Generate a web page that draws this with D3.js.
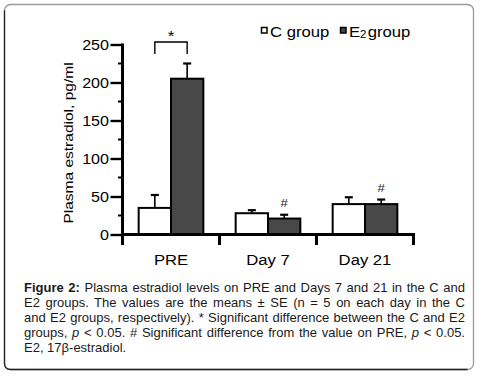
<!DOCTYPE html>
<html>
<head>
<meta charset="utf-8">
<script src="https://cdn.jsdelivr.net/npm/d3@7"></script>
<style>
  body { margin: 0; background: #fff; }
  svg { display: block; font-family: "Liberation Sans", Arial, sans-serif; }
</style>
</head>
<body>
<script>
// chart values
var categories = ["PRE", "Day 7", "Day 21"];
var groups = ["C", "E2"];
var cMeans = [35, 28, 40];
var cSE = [17, 4, 9];
var e2Means = [205, 21, 40];
var e2SE = [20, 5, 6];
var yTicks = [0, 50, 100, 150, 200, 250];
var yMinorTicks = [25, 75, 125, 175, 225];
var hashMarks = ["Day 7", "Day 21"];   // E2 differs from PRE
var starMarks = ["PRE"];               // C vs E2 differ

var captionLines = [
  [{t: "Figure 2:", b: true}, {t: " Plasma estradiol levels on PRE and Days 7 and 21 in the C and"}],
  [{t: "E2 groups. The values are the means \u00b1 SE (n = 5 on each day in the C"}],
  [{t: "and E2 groups, respectively). * Significant difference between the C and E2"}],
  [{t: "groups, "}, {t: "p", i: true}, {t: " < 0.05. # Significant difference from the value on PRE, "}, {t: "p", i: true}, {t: " < 0.05."}],
  [{t: "E2, 17\u03b2-estradiol."}]
];

var W = 485, H = 376;
var sx = 1.15; // chart lettering is a little wide

var svg = d3.select("body").append("svg")
    .attr("width", W)
    .attr("height", H);

// frame
svg.append("rect")
    .attr("x", 4.5).attr("y", 4.5)
    .attr("width", 469).attr("height", 365)
    .attr("rx", 6)
    .attr("fill", "none")
    .attr("stroke", "#9a9a9a")
    .attr("stroke-width", 1.3);
svg.append("path")
    .attr("d", "M4.5,10.5 V363.5 Q4.5,369.5 10.5,369.5 H467.5")
    .attr("fill", "none")
    .attr("stroke", "#222")
    .attr("stroke-width", 1.3);

var rows = [];
categories.forEach(function(c, i) {
  rows.push({cat: c, group: "C", mean: cMeans[i], se: cSE[i]});
  rows.push({cat: c, group: "E2", mean: e2Means[i], se: e2SE[i]});
});

var x0 = d3.scaleBand().domain(categories).range([122.5, 413.5]).padding(0);
var x1 = d3.scaleBand().domain(groups).range([0, x0.bandwidth()]).paddingInner(0).paddingOuter(0.5);
var y = d3.scaleLinear().domain([0, 250]).range([234.5, 44.5]);

var fillOf = {C: "#ffffff", E2: "#484848"};

function stretched(sel, px, py) {
  return sel.attr("transform", "translate(" + px + "," + py + ") scale(" + sx + ",1)");
}

// bars
var chart = svg.append("g");
chart.selectAll("rect.bar")
    .data(rows)
    .enter()
    .append("rect")
    .attr("class", "bar")
    .attr("x", function(d) { return x0(d.cat) + x1(d.group); })
    .attr("y", function(d) { return y(d.mean); })
    .attr("width", x1.bandwidth())
    .attr("height", function(d) { return y(0) - y(d.mean); })
    .attr("fill", function(d) { return fillOf[d.group]; })
    .attr("stroke", "#000")
    .attr("stroke-width", 2);

// error bars (upper only)
var err = chart.selectAll("g.err")
    .data(rows)
    .enter()
    .append("g")
    .attr("class", "err");
err.append("line")
    .attr("x1", function(d) { return x0(d.cat) + x1(d.group) + x1.bandwidth() / 2; })
    .attr("x2", function(d) { return x0(d.cat) + x1(d.group) + x1.bandwidth() / 2; })
    .attr("y1", function(d) { return y(d.mean); })
    .attr("y2", function(d) { return y(d.mean + d.se); })
    .attr("stroke", "#000")
    .attr("stroke-width", 1.6);
err.append("line")
    .attr("x1", function(d) { return x0(d.cat) + x1(d.group) + x1.bandwidth() / 2 - 4; })
    .attr("x2", function(d) { return x0(d.cat) + x1(d.group) + x1.bandwidth() / 2 + 4; })
    .attr("y1", function(d) { return y(d.mean + d.se); })
    .attr("y2", function(d) { return y(d.mean + d.se); })
    .attr("stroke", "#000")
    .attr("stroke-width", 2.2);

// y axis
var yAxis = d3.axisLeft(y).tickValues(yTicks).tickSize(12).tickPadding(3);
var ya = svg.append("g")
    .attr("transform", "translate(122.5,0)")
    .call(yAxis);
ya.select(".domain").remove();
ya.selectAll(".tick line").attr("stroke", "#000").attr("stroke-width", 2.4);
ya.selectAll(".tick text").remove();
ya.selectAll(".tick").append("text")
    .attr("fill", "#000")
    .attr("text-anchor", "end")
    .attr("font-size", 14)
    .attr("dy", "0.36em")
    .text(function(d) { return d; })
    .each(function() { stretched(d3.select(this), -13.5, 0); });

ya.selectAll("line.minor")
    .data(yMinorTicks)
    .enter()
    .append("line")
    .attr("class", "minor")
    .attr("x1", -4.5).attr("x2", 0)
    .attr("y1", function(d) { return y(d); })
    .attr("y2", function(d) { return y(d); })
    .attr("stroke", "#000")
    .attr("stroke-width", 2);

svg.append("line")
    .attr("x1", 122.5).attr("x2", 122.5)
    .attr("y1", y(250) - 1).attr("y2", 245)
    .attr("stroke", "#000")
    .attr("stroke-width", 3);

// x axis
svg.append("line")
    .attr("x1", 121).attr("x2", 415)
    .attr("y1", y(0)).attr("y2", y(0))
    .attr("stroke", "#000")
    .attr("stroke-width", 3);
var seps = categories.map(function(c) { return x0(c); }).concat([x0.range()[1]]);
svg.selectAll("line.sep")
    .data(seps)
    .enter()
    .append("line")
    .attr("class", "sep")
    .attr("x1", function(d) { return d; })
    .attr("x2", function(d) { return d; })
    .attr("y1", y(0)).attr("y2", 245)
    .attr("stroke", "#000")
    .attr("stroke-width", 3);

svg.selectAll("text.cat")
    .data(categories)
    .enter()
    .append("text")
    .attr("class", "cat")
    .attr("text-anchor", "middle")
    .attr("font-size", 14.5)
    .attr("fill", "#000")
    .text(function(d) { return d; })
    .each(function(d) { stretched(d3.select(this), x0(d) + x0.bandwidth() / 2, 265); });

// y label
svg.append("text")
    .attr("text-anchor", "middle")
    .attr("font-size", 13.5)
    .attr("fill", "#000")
    .attr("transform", "translate(72.5,143) rotate(-90) scale(" + sx + ",1)")
    .text("Plasma estradiol, pg/ml");

// significance: bracket + star
starMarks.forEach(function(c) {
  var xa = x0(c) + x1("C") + x1.bandwidth() / 2;
  var xb = x0(c) + x1("E2") + x1.bandwidth() / 2;
  var top = 42;
  svg.append("path")
      .attr("d", "M" + xa + "," + (top + 12) + " V" + top + " H" + xb + " V" + (top + 12))
      .attr("fill", "none")
      .attr("stroke", "#000")
      .attr("stroke-width", 1.4);
  svg.append("text")
      .attr("text-anchor", "middle")
      .attr("font-size", 15)
      .attr("fill", "#000")
      .text("*")
      .each(function() { stretched(d3.select(this), (xa + xb) / 2, top - 1); });
});

hashMarks.forEach(function(c) {
  var i = categories.indexOf(c);
  svg.append("text")
      .attr("text-anchor", "middle")
      .attr("font-size", 11.5)
      .attr("fill", "#222")
      .text("#")
      .each(function() {
        stretched(d3.select(this), x0(c) + x1("E2") + x1.bandwidth() / 2, y(e2Means[i] + e2SE[i]) - 7.5);
      });
});

// legend
var legend = svg.append("g");
var legItems = [{x: 261, label: "C"}, {x: 340, label: "E"}];
groups.forEach(function(g, i) {
  var lx = legItems[i].x;
  legend.append("rect")
      .attr("x", lx + 0.5).attr("y", 27.5)
      .attr("width", 5.5).attr("height", 5.5)
      .attr("fill", fillOf[g])
      .attr("stroke", "#000")
      .attr("stroke-width", 1.5);
  var t = legend.append("text")
      .attr("font-size", 14.5)
      .attr("fill", "#000");
  stretched(t, lx + 9, 36.5);
  if (g === "C") {
    t.text("C group");
  } else {
    t.append("tspan").text("E");
    t.append("tspan").attr("font-size", 10).attr("dy", 1.5).text("2");
    t.append("tspan").attr("dy", -1.5).attr("dx", 1).text("group");
  }
});

// caption, justified to the frame
var capLeft = 24, capRight = 465, capTop = 291.5, capStep = 15;
captionLines.forEach(function(parts, li) {
  var t = svg.append("text")
      .attr("x", capLeft)
      .attr("y", capTop + li * capStep)
      .attr("font-size", 13)
      .attr("fill", "#1a1a1a")
      .attr("xml:space", "preserve");
  parts.forEach(function(p) {
    t.append("tspan")
        .attr("font-weight", p.b ? "bold" : null)
        .attr("font-style", p.i ? "italic" : null)
        .text(p.t);
  });
  if (li < captionLines.length - 1) {
    var full = parts.map(function(p) { return p.t; }).join("");
    var spaces = (full.match(/ /g) || []).length;
    var w = t.node().getComputedTextLength();
    t.attr("word-spacing", (capRight - capLeft - w) / spaces);
  }
});
</script>
</body>
</html>
